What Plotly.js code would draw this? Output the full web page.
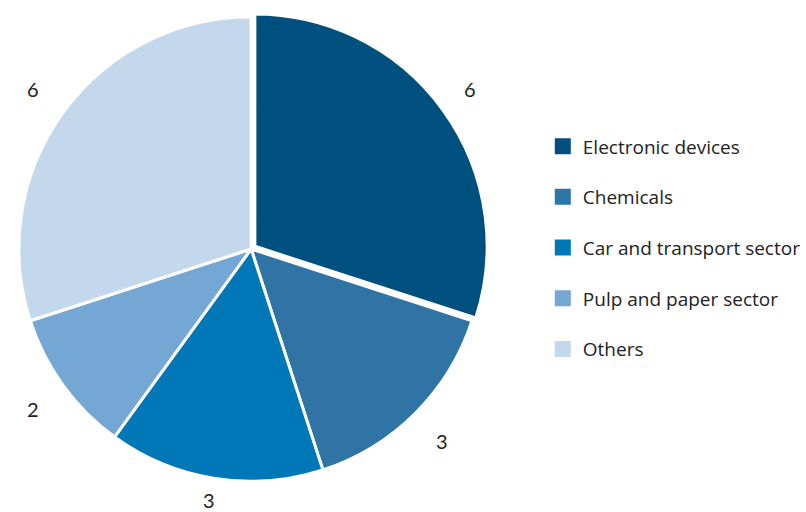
<!DOCTYPE html>
<html>
<head>
<meta charset="utf-8">
<script src="https://cdn.plot.ly/plotly-3.0.1.min.js"></script>
<style>html,body{margin:0;padding:0;background:#fff;}#chart{width:806px;height:512px;}</style>
</head>
<body>
<div id="chart"></div>
<script>
const categories = ["Electronic devices", "Chemicals", "Car and transport sector", "Pulp and paper sector", "Others"];
const values = [6, 3, 3, 2, 6];
const colors = ["#00507f", "#2f74a5", "#0078b7", "#75a7d5", "#c3d8ed"];
const pulls = [0.02, 0, 0, 0, 0];

const W = 806, H = 512;
const CX = 253, CY = 249, R = 234;   // pie center / radius in pixels
const LABEL_R = 272;                 // label distance from center
const maxPull = Math.max(...pulls);
const half = R * (1 + maxPull);

const domain = {
  x: [(CX - half) / W, (CX + half) / W],
  y: [1 - (CY + half) / H, 1 - (CY - half) / H]
};

const pie = {
  type: "pie",
  labels: categories,
  values: values,
  sort: false,
  direction: "clockwise",
  rotation: 0,
  pull: pulls,
  marker: { colors: colors, line: { color: "#ffffff", width: 3 } },
  textinfo: "none",
  domain: domain,
  showlegend: false,
  hoverinfo: "label+value"
};

// legend entries
const legendTraces = categories.map((c, i) => ({
  type: "scatter",
  mode: "markers",
  x: [null], y: [null],
  name: c,
  legendgroup: "g" + i,
  marker: { symbol: "square", size: 16, color: colors[i] },
  hoverinfo: "skip"
}));

// value labels outside slices
const total = values.reduce((a, b) => a + b, 0);
let cum = 0;
const annotations = values.map((v) => {
  const mid = (cum + v / 2) / total * 2 * Math.PI;
  cum += v;
  const px = CX + LABEL_R * Math.sin(mid);
  const py = Math.min(CY - LABEL_R * Math.cos(mid), H - 12);
  return {
    x: px / W, y: 1 - py / H, xref: "paper", yref: "paper",
    xanchor: "center", yanchor: "middle",
    text: String(v), showarrow: false,
    font: { family: "Lato, 'Open Sans', sans-serif", size: 20, color: "#222222" }
  };
});

const layout = {
  width: W, height: H,
  margin: { l: 0, r: 0, t: 0, b: 0 },
  paper_bgcolor: "#ffffff",
  plot_bgcolor: "#ffffff",
  font: { family: "'Open Sans', Lato, sans-serif", color: "#222222" },
  xaxis: { visible: false, domain: [0.99, 1] },
  yaxis: { visible: false, domain: [0.99, 1] },
  showlegend: true,
  legend: {
    x: 0.6785, y: 0.516, xanchor: "left", yanchor: "middle",
    font: { family: "'Open Sans', Lato, sans-serif", size: 19, color: "#222222" },
    tracegroupgap: 23,
    bgcolor: "rgba(0,0,0,0)"
  },
  annotations: annotations
};

Plotly.newPlot("chart", [pie].concat(legendTraces), layout, { displayModeBar: false, staticPlot: true });
</script>
</body>
</html>
